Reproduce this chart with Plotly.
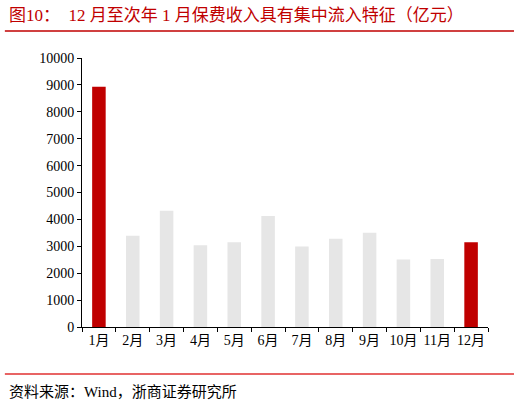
import plotly.graph_objects as go

months = ["1月", "2月", "3月", "4月", "5月", "6月", "7月", "8月", "9月", "10月", "11月", "12月"]
premium = [8930, 3390, 4320, 3040, 3150, 4130, 2990, 3280, 3500, 2510, 2530, 3150]
highlight = ["1月", "12月"]

RED = "#C00000"
GREY = "#E6E6E6"
FONT = "Liberation Serif, Times New Roman, Noto Sans CJK SC, serif"

colors = [RED if m in highlight else GREY for m in months]

fig = go.Figure()
fig.add_trace(go.Bar(x=months, y=premium, marker=dict(color=colors, line=dict(width=0)),
                     showlegend=False, hoverinfo="x+y"))

fig.update_layout(
    width=520, height=404,
    margin=dict(l=82, r=32, t=58, b=77, autoexpand=False),
    paper_bgcolor="white", plot_bgcolor="white",
    bargap=0.6,
    font=dict(family=FONT, size=14, color="black"),
)
fig.update_yaxes(range=[0, 10000], dtick=1000, tickformat="d", showgrid=False, zeroline=False,
                 showline=True, linecolor="black", linewidth=1, automargin=False,
                 ticks="outside", ticklen=4, tickcolor="black",
                 tickfont=dict(size=14, family=FONT))
fig.update_xaxes(showgrid=False, showline=True, linecolor="black", linewidth=1, automargin=False,
                 ticks="outside", ticklen=4, tickcolor="black", tickson="boundaries",
                 tickangle=0, tickfont=dict(size=14, family=FONT))

# title and source
title = "图10：\u00a0\u00a012 月至次年 1 月保费收入具有集中流入特征（亿元）"
fig.add_annotation(text=title,
                   xref="paper", yref="paper", x=-0.185, y=1.158, xanchor="left", yanchor="middle",
                   showarrow=False, font=dict(size=17, color=RED, family=FONT))
fig.add_annotation(text="资料来源：Wind，浙商证券研究所",
                   xref="paper", yref="paper", x=-0.185, y=-0.242, xanchor="left", yanchor="middle",
                   showarrow=False, font=dict(size=15, color="black", family=FONT))
fig.add_shape(type="line", xref="paper", yref="paper", x0=-0.19, x1=1.064, y0=1.1, y1=1.1,
              line=dict(color=RED, width=1.5))
fig.add_shape(type="line", xref="paper", yref="paper", x0=-0.19, x1=1.064, y0=-0.175, y1=-0.175,
              line=dict(color="#E03030", width=1.5))

# drop the default page margin so the figure sits at the window's corner
fig.write_html("out.html", config={"displayModeBar": False},
               post_script="document.body.style.margin='0';")
